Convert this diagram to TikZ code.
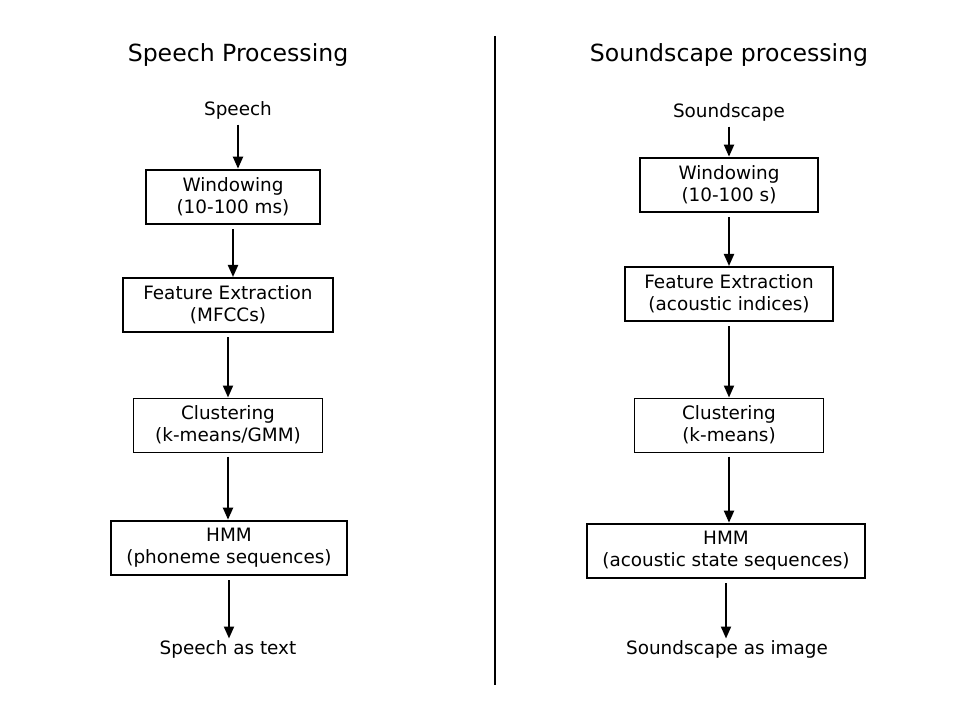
\documentclass[tikz,border=0pt]{standalone}
\usepackage{fontspec}
\setmainfont{DejaVu Sans}
\usetikzlibrary{arrows.meta, positioning}
\tikzset{
    font=\fontsize{13.8}{16.5}\selectfont,
    title/.style={font=\fontsize{17.7}{20}\selectfont},
    label/.style={inner sep=1pt},
    stage/.style={
        rectangle, draw, line width=1.5pt,
        align=center, inner sep=2pt
    },
    stagethin/.style={stage, line width=0.75pt},
    flow/.style={
        line width=1.5pt,
        -{Triangle[length=9pt,width=7.5pt]},
        shorten <=3pt
    }
}
\begin{document}
\begin{tikzpicture}[x=0.75pt, y=-0.75pt]
    \useasboundingbox (0,0) rectangle (960,720);

    % left column
    \node [title] (tSp) at (238,55) {Speech Processing};
    \node [label] (spIn) at (238,110) {Speech};
    \node [stage, minimum width=131pt, minimum height=41pt] (spWin) at (233,197) {Windowing\\(10-100 ms)};
    \node [stage, minimum width=157pt, minimum height=40.5pt] (spFeat) at (228,305) {Feature Extraction\\(MFCCs)};
    \node [stagethin, minimum width=142pt, minimum height=40.5pt] (spClu) at (228,425) {Clustering\\(k-means/GMM)};
    \node [stage, minimum width=177pt, minimum height=41pt] (spHmm) at (229,548) {HMM\\(phoneme sequences)};
    \node [label] (spOut) at (228,649) {Speech as text};

    % divider
    \coordinate (divTop) at (495,36);
    \coordinate (divBot) at (495,685);
    \draw [line width=1.2pt] (divTop) -- (divBot);

    % right column
    \node [title] (tSc) at (729,55) {Soundscape processing};
    \node [label] (scIn) at (729,112) {Soundscape};
    \node [stage, minimum width=133pt, minimum height=41pt] (scWin) at (729,185) {Windowing\\(10-100 s)};
    \node [stage, minimum width=156pt, minimum height=40.5pt] (scFeat) at (729,294) {Feature Extraction\\(acoustic indices)};
    \node [stagethin, minimum width=142pt, minimum height=40.5pt] (scClu) at (729,425) {Clustering\\(k-means)};
    \node [stage, minimum width=208.5pt, minimum height=41pt] (scHmm) at (726,551) {HMM\\(acoustic state sequences)};
    \node [label] (scOut) at (727,649) {Soundscape as image};

    \foreach \a/\b in {spIn/spWin, spWin/spFeat, spFeat/spClu, spClu/spHmm, spHmm/spOut,
                       scIn/scWin, scWin/scFeat, scFeat/scClu, scClu/scHmm, scHmm/scOut}
        \draw [flow] (\a.south) -- (\a.south |- \b.north);
\end{tikzpicture}
\end{document}
